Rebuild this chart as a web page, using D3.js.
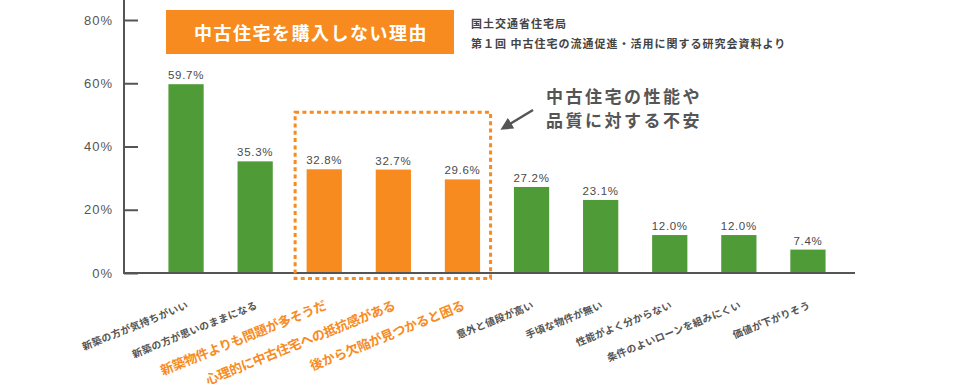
<!DOCTYPE html>
<html><head><meta charset="utf-8">
<script src="https://cdn.jsdelivr.net/npm/d3@7/dist/d3.min.js"></script>
<style>
html,body{margin:0;padding:0;background:#fff;}
svg{display:block;}
</style></head>
<body>
<svg id="chart" width="980" height="388"></svg>
<script>
const categories = [
  "新築の方が気持ちがいい",
  "新築の方が思いのままになる",
  "新築物件よりも問題が多そうだ",
  "心理的に中古住宅への抵抗感がある",
  "後から欠陥が見つかると困る",
  "意外と値段が高い",
  "手頃な物件が無い",
  "性能がよく分からない",
  "条件のよいローンを組みにくい",
  "価値が下がりそう"
];
const values = [59.7, 35.3, 32.8, 32.7, 29.6, 27.2, 23.1, 12.0, 12.0, 7.4];
const groups = ["other","other","quality","quality","quality","other","other","other","other","other"];
const yTicks = [0, 20, 40, 60, 80];
const titleText = "中古住宅を購入しない理由";
const sourceLines = ["国土交通省住宅局", "第１回 中古住宅の流通促進・活用に関する研究会資料より"];
const noteLines = ["中古住宅の性能や", "品質に対する不安"];

const GREEN = "#4f9b37", ORANGE = "#f78b1f", GRAY = "#555555";
const JP = "'Noto Sans CJK JP','Noto Sans CJK SC',sans-serif";
const LAT = "'Liberation Sans',Arial,sans-serif";

const svg = d3.select("#chart");
const axisX = 124, baseY = 273;

const x = d3.scaleBand().domain(categories).range([151.5, 842.5]).paddingInner(0.49).paddingOuter(0.245);
const y = d3.scaleLinear().domain([0, 80]).range([baseY, 20]);

// y axis
const yAxis = d3.axisLeft(y).tickValues(yTicks).tickFormat(d => d + "%").tickSizeInner(-14).tickSizeOuter(0).tickPadding(11);
const gy = svg.append("g").attr("transform", `translate(${axisX},0)`).call(yAxis);
gy.select(".domain").remove();
gy.selectAll(".tick line").attr("stroke", GRAY).attr("stroke-width", 2);
gy.selectAll(".tick text").attr("fill", GRAY).style("font-family", LAT).style("font-size", "13px").style("letter-spacing", "1px");

// bars
svg.append("g").selectAll("rect").data(categories).join("rect")
  .attr("x", d => x(d)).attr("width", x.bandwidth())
  .attr("y", (d, i) => y(values[i])).attr("height", (d, i) => baseY - y(values[i]))
  .attr("fill", (d, i) => groups[i] === "quality" ? ORANGE : GREEN);

// value labels
svg.append("g").selectAll("text").data(categories).join("text")
  .attr("x", d => x(d) + x.bandwidth() / 2)
  .attr("y", (d, i) => y(values[i]) - 5)
  .attr("text-anchor", "middle")
  .attr("fill", "#4a4a4a")
  .style("font-family", LAT).style("font-size", "11.5px").style("letter-spacing", "0.7px")
  .text((d, i) => values[i].toFixed(1) + "%");

// axis lines
svg.append("line").attr("x1", axisX).attr("x2", axisX).attr("y1", 0).attr("y2", baseY + 1)
  .attr("stroke", GRAY).attr("stroke-width", 2);
svg.append("line").attr("x1", axisX - 1).attr("x2", 855).attr("y1", baseY).attr("y2", baseY)
  .attr("stroke", GRAY).attr("stroke-width", 2);

// category labels
svg.append("g").selectAll("text").data(categories).join("text")
  .attr("transform", (d, i) => {
    const cx = x(d) + x.bandwidth() / 2 + 3;
    const yy = groups[i] === "quality" ? 309 : 308;
    return `translate(${cx},${yy}) rotate(-22)`;
  })
  .attr("text-anchor", "end")
  .attr("fill", (d, i) => groups[i] === "quality" ? ORANGE : GRAY)
  .style("font-family", JP).style("font-weight", "bold")
  .style("font-size", (d, i) => groups[i] === "quality" ? "13px" : "10px")
  .style("letter-spacing", (d, i) => groups[i] === "quality" ? "-0.3px" : "0.3px")
  .text(d => d);

// highlight dashed box
const q = categories.filter((d, i) => groups[i] === "quality");
const bx0 = x(q[0]) - 11.5, bx1 = x(q[q.length - 1]) + x.bandwidth() + 10.5;
svg.append("rect").attr("x", bx0).attr("y", 112.3).attr("width", bx1 - bx0).attr("height", 278.5 - 112.3)
  .attr("fill", "none").attr("stroke", ORANGE).attr("stroke-width", 3).attr("stroke-dasharray", "4,3.3");

// title box
svg.append("rect").attr("x", 166).attr("y", 10).attr("width", 288).attr("height", 44).attr("fill", ORANGE);
svg.append("text").attr("x", 311).attr("y", 32).attr("text-anchor", "middle").attr("dominant-baseline", "central")
  .attr("fill", "#fff").style("font-family", JP).style("font-weight", "bold").style("font-size", "18px")
  .style("letter-spacing", "1.5px").text(titleText);

// source
svg.append("g").selectAll("text").data(sourceLines).join("text")
  .attr("x", 471).attr("y", (d, i) => 22.5 + i * 20).attr("dominant-baseline", "central")
  .attr("fill", "#444").style("font-family", JP).style("font-weight", "bold").style("font-size", "11px")
  .style("letter-spacing", "1px").text(d => d);

// annotation
svg.append("g").selectAll("text").data(noteLines).join("text")
  .attr("x", 546).attr("y", (d, i) => 95 + i * 24).attr("dominant-baseline", "central")
  .attr("fill", GRAY).style("font-family", JP).style("font-weight", "bold").style("font-size", "17px")
  .style("letter-spacing", "2.5px").text(d => d);

// arrow
const defs = svg.append("defs");
defs.append("marker").attr("id", "ah").attr("viewBox", "0 0 10 10").attr("refX", 2).attr("refY", 5)
  .attr("markerWidth", 5).attr("markerHeight", 5).attr("orient", "auto").attr("markerUnits", "strokeWidth")
  .append("path").attr("d", "M0,0 L10,5 L0,10 z").attr("fill", GRAY);
svg.append("line").attr("x1", 533).attr("y1", 110).attr("x2", 509).attr("y2", 124.5)
  .attr("stroke", GRAY).attr("stroke-width", 2.5).attr("marker-end", "url(#ah)");
</script>
</body></html>
